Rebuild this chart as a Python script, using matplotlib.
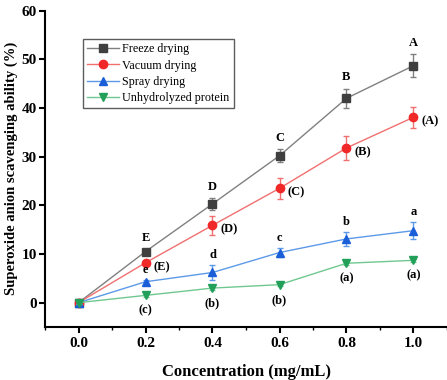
import matplotlib
matplotlib.use('Agg')
import matplotlib.pyplot as plt
import numpy as np

# Data ###########################################
conc = [0.0, 0.2, 0.4, 0.6, 0.8, 1.0]

freeze = [0.0, 10.5, 20.3, 30.2, 42.0, 48.7]
freeze_err = [0.3, 0.5, 1.2, 1.3, 2.0, 2.4]
vacuum = [0.0, 8.2, 15.9, 23.5, 31.8, 38.1]
vacuum_err = [0.3, 0.4, 1.9, 2.1, 2.4, 2.2]
spray = [0.0, 4.3, 6.2, 10.3, 13.1, 14.8]
spray_err = [0.3, 0.4, 1.6, 1.0, 1.4, 1.8]
unhydro = [0.0, 1.5, 3.0, 3.7, 8.1, 8.7]
unhydro_err = [0.2, 0.3, 0.3, 0.3, 0.3, 0.3]

freeze_lbl = ['', 'E', 'D', 'C', 'B', 'A']
vacuum_lbl = ['', '(E)', '(D)', '(C)', '(B)', '(A)']
spray_lbl = ['', 'e', 'd', 'c', 'b', 'a']
unhydro_lbl = ['', '(c)', '(b)', '(b)', '(a)', '(a)']
##################################################

plt.rcParams['font.family'] = ['Liberation Serif', 'DejaVu Serif']

fig = plt.figure(figsize=(4.47, 3.8), dpi=100)
ax = fig.add_axes([45 / 447, 53 / 380, 402 / 447, 316.3 / 380])

series = [
    ('Freeze drying', freeze, freeze_err, 's', '#3f3f3f', '#808080'),
    ('Vacuum drying', vacuum, vacuum_err, 'o', '#f02828', '#f07070'),
    ('Spray drying', spray, spray_err, '^', '#1a5fd8', '#5c9ae8'),
    ('Unhydrolyzed protein', unhydro, unhydro_err, 'v', '#22a05a', '#70c890'),
]
for name, y, e, m, mc, lc in series:
    ax.errorbar(conc, y, yerr=e, fmt='none', ecolor=lc, elinewidth=1, capsize=2.5)
    ax.plot(conc, y, color=lc, marker=m, markersize=6, markerfacecolor=mc,
            markeredgecolor=mc, linewidth=1, label=name)

bold = dict(fontsize=9, fontweight='bold', ha='center', va='center')
for x, y, e, t in zip(conc, freeze, freeze_err, freeze_lbl):
    ax.annotate(t, (x, y + e), xytext=(0, 8), textcoords='offset points', **bold)
for x, y, t in zip(conc, vacuum, vacuum_lbl):
    ax.annotate(t, (x, y), xytext=(12, -3), textcoords='offset points', **bold)
for x, y, e, t in zip(conc, spray, spray_err, spray_lbl):
    ax.annotate(t, (x, y + e), xytext=(0, 7), textcoords='offset points', **bold)
for x, y, t in zip(conc, unhydro, unhydro_lbl):
    ax.annotate(t, (x, y), xytext=(0, -11), textcoords='offset points', **bold)

ax.set_xlim(-0.1, 1.1)
ax.set_ylim(-5, 60)
ax.set_xticks(conc)
ax.set_xticks(np.arange(-0.1, 1.11, 0.1), minor=True)
ax.set_yticks([0, 10, 20, 30, 40, 50, 60])
ax.set_xticklabels(['0.0', '0.2', '0.4', '0.6', '0.8', '1.0'])
for lab in ax.get_xticklabels() + ax.get_yticklabels():
    lab.set_fontweight('bold')
    lab.set_fontsize(11)
ax.tick_params(direction='out', length=4, width=1.5)
ax.tick_params(axis='y', pad=2)
ax.tick_params(which='minor', direction='out', length=2.5, width=1)
ax.spines['top'].set_visible(False)
ax.spines['right'].set_visible(False)
ax.spines['left'].set_linewidth(1.5)
ax.spines['bottom'].set_linewidth(1.5)

ax.set_xlabel('Concentration (mg/mL)', fontsize=12, fontweight='bold', labelpad=10)
ax.set_ylabel('Superoxide anion scavenging ability (%)', fontsize=10.5,
              fontweight='bold')
ax.yaxis.set_label_coords(-0.068, 0.5)

leg = ax.legend(loc='upper left', bbox_to_anchor=(0.095, 0.91), fontsize=8.7,
                frameon=True, fancybox=False, edgecolor='#333333',
                borderpad=0.35, labelspacing=0.35, handlelength=2.6,
                handletextpad=0.3, borderaxespad=0)
leg.get_frame().set_linewidth(1)

fig.savefig('out.png', dpi=100)
